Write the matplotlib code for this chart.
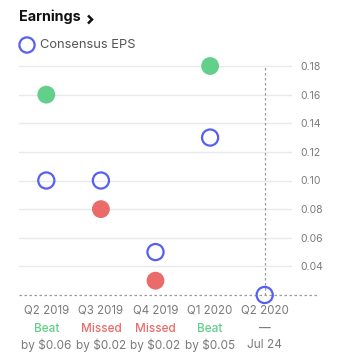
import matplotlib
matplotlib.use("Agg")
import matplotlib.pyplot as plt
from matplotlib.transforms import blended_transform_factory

quarters = ["Q2 2019", "Q3 2019", "Q4 2019", "Q1 2020", "Q2 2020"]
actual = [0.16, 0.08, 0.03, 0.18]
consensus = [0.10, 0.10, 0.05, 0.13, 0.02]
status = ["Beat", "Missed", "Missed", "Beat", "—"]
detail = ["by $0.06", "by $0.02", "by $0.02", "by $0.05", "Jul 24"]
yticks = [0.04, 0.06, 0.08, 0.10, 0.12, 0.14, 0.16, 0.18]

GREEN = "#62cf8b"
RED = "#eb6a6a"
BLUE = "#5560f2"
GREY = "#7a7a7a"
GRID = "#e6e9ef"

plt.rcParams['font.family'] = ['Inter', 'DejaVu Sans']

W, H = 343, 362
fig = plt.figure(figsize=(W / 100, H / 100), dpi=100)
left, right = 19, 292
top, bottom = 59, 302
ax = fig.add_axes([left / W, 1 - bottom / H, (right - left) / W, (bottom - top) / H])
ax.set_xlim(-0.5, 4.5)
ax.set_ylim(0.0151, 0.1849)
for s in ax.spines.values():
    s.set_visible(False)
ax.set_xticks([])
ax.yaxis.tick_right()
ax.set_yticks(yticks)
ax.set_yticklabels([f"{v:.2f}" for v in yticks])
ax.tick_params(axis='y', length=0, pad=6, labelsize=7.5, labelcolor=GREY)
for v in yticks:
    ax.axhline(v, color=GRID, lw=1, zorder=0)
ax.axhline(0.02, xmin=0, xmax=(318 - left) / (right - left), color="#9a9a9a",
           lw=0.9, ls=(0, (2, 2)), clip_on=False, zorder=1)
ax.vlines(4, 0.02, 0.18, color="#9a9a9a", lw=0.9, linestyles=(0, (2, 2)), zorder=1)

xs = list(range(len(quarters)))
colors = [GREEN if s == "Beat" else RED for s in status[:len(actual)]]
ax.scatter(xs[:len(actual)], actual, s=165, c=colors, edgecolors='none', zorder=3, clip_on=False)
ax.scatter(xs, consensus, s=135, facecolors='none', edgecolors=BLUE, linewidths=1.6,
           zorder=4, clip_on=False)

trans = blended_transform_factory(ax.transData, fig.transFigure)
for i, q in enumerate(quarters):
    ax.text(i, 1 - 311 / H, q, transform=trans, ha='center', va='center',
            fontsize=8.3, color=GREY)
    st = status[i]
    col = GREEN if st == "Beat" else (RED if st == "Missed" else GREY)
    ax.text(i, 1 - 329 / H, st, transform=trans, ha='center', va='center',
            fontsize=8.5, color=col, fontweight='medium')
    ax.text(i, 1 - 345 / H, detail[i], transform=trans, ha='center', va='center',
            fontsize=8.5, color=GREY)

circ_ax = fig.add_axes([0, 0, 1, 1], facecolor='none')
circ_ax.set_xlim(0, W)
circ_ax.set_ylim(H, 0)
circ_ax.axis('off')
circ_ax.text(19, 16.5, "Earnings", fontsize=10.3, fontweight='bold',
             color="#111111", ha='left', va='center')
circ_ax.plot([88, 92, 88], [15.5, 19.5, 23.5], color="#111111", lw=1.8,
             solid_capstyle='butt', solid_joinstyle='miter')
circ_ax.scatter([27], [45], s=120, facecolors='none', edgecolors=BLUE, linewidths=1.6)
circ_ax.text(40, 45, "Consensus EPS", fontsize=9.3, color="#555555", ha='left', va='center')

fig.savefig("out.png", dpi=100)
